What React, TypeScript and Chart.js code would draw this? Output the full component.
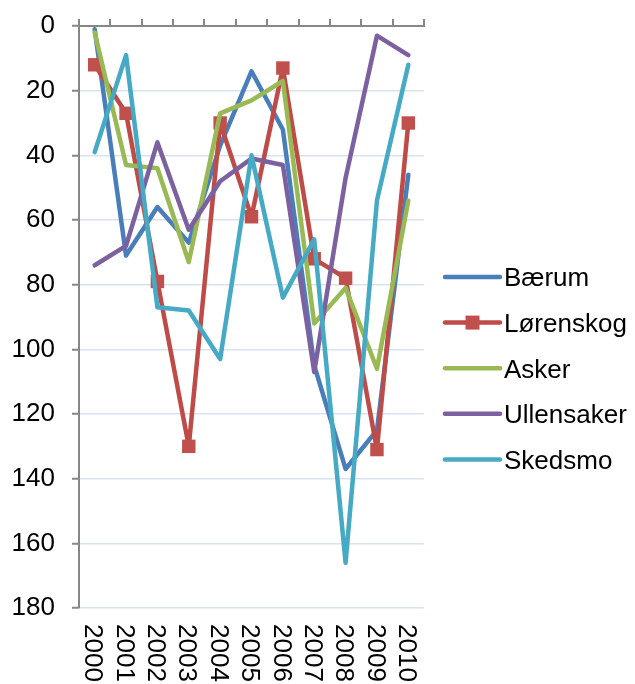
import React, { useEffect, useRef } from "react";
import { Chart, registerables } from "chart.js";

Chart.register(...registerables);

const years = ["2000", "2001", "2002", "2003", "2004", "2005", "2006", "2007", "2008", "2009", "2010"];
const seriesNames = ["Bærum", "Lørenskog", "Asker", "Ullensaker", "Skedsmo"];
const baerum = [1, 71, 56, 67, 37, 14, 32, 105, 137, 125, 46];
const lorenskog = [12, 27, 79, 130, 30, 59, 13, 72, 78, 131, 30];
const asker = [2, 43, 44, 73, 27, 23, 17, 92, 81, 106, 54];
const ullensaker = [74, 68, 36, 63, 48, 41, 43, 107, 47, 3, 9];
const skedsmo = [39, 9, 87, 88, 103, 40, 84, 66, 166, 54, 12];
const yMin = 0;
const yMax = 180;
const yStep = 20;

const colors = ["#4A7EBB", "#BE4B48", "#98B954", "#7D60A0", "#46AAC5"];
const FONT = "'Liberation Sans', Arial, sans-serif";
const FS = 26;

const W = 635;
const H = 684;

export default function App() {
  const ref = useRef<HTMLCanvasElement | null>(null);

  useEffect(() => {
    const canvas = ref.current;
    if (!canvas) return;
    const values = [baerum, lorenskog, asker, ullensaker, skedsmo];

    const labelPlugin = {
      id: "customLabels",
      afterDraw(chart: any) {
        const ctx = chart.ctx;
        const xs = chart.scales.x;
        ctx.save();
        ctx.fillStyle = "#000";
        ctx.font = `${FS}px ${FONT}`;
        // x labels rotated 90 deg
        years.forEach((lab, i) => {
          const px = xs.getPixelForValue(i);
          ctx.save();
          ctx.translate(px, 624);
          ctx.rotate(Math.PI / 2);
          ctx.textAlign = "left";
          ctx.textBaseline = "alphabetic";
          ctx.fillText(lab, 0, 0.36 * FS);
          ctx.restore();
        });
        // legend
        const legendY0 = 277;
        const legendStep = 45.6;
        const lx1 = 445;
        const lx2 = 500;
        chart.data.datasets.forEach((ds: any, i: number) => {
          const y = legendY0 + i * legendStep;
          ctx.save();
          ctx.strokeStyle = ds.borderColor;
          ctx.lineWidth = 4.5;
          ctx.lineCap = "round";
          ctx.beginPath();
          ctx.moveTo(lx1, y);
          ctx.lineTo(lx2, y);
          ctx.stroke();
          if (ds.pointRadius > 0) {
            ctx.fillStyle = ds.pointBackgroundColor;
            const s = 14;
            ctx.fillRect((lx1 + lx2) / 2 - s / 2, y - s / 2, s, s);
          }
          ctx.fillStyle = "#000";
          ctx.font = `${FS}px ${FONT}`;
          ctx.textAlign = "left";
          ctx.textBaseline = "alphabetic";
          ctx.fillText(ds.label, 504, y + 0.36 * FS);
          ctx.restore();
        });
        ctx.restore();
      },
    };

    const chart = new Chart(canvas, {
      type: "line",
      data: {
        labels: years,
        datasets: seriesNames.map((name, i) => ({
          label: name,
          data: values[i],
          borderColor: colors[i],
          backgroundColor: colors[i],
          pointBackgroundColor: i === 1 ? "#C0504D" : colors[i],
          pointBorderColor: i === 1 ? "#C0504D" : colors[i],
          pointBorderWidth: 0,
          pointStyle: "rect",
          pointRadius: i === 1 ? 9.5 : 0,
          pointHoverRadius: i === 1 ? 9.5 : 0,
          borderWidth: 4.5,
          borderCapStyle: "round",
          borderJoinStyle: "round",
          tension: 0,
          fill: false,
          clip: 20,
          order: 4 - i,
          xAxisID: "x",
          yAxisID: "y",
        })),
      },
      options: {
        responsive: false,
        animation: false,
        devicePixelRatio: 1,
        layout: { padding: { left: 0, top: 0, right: W - 424, bottom: 0 } },
        plugins: {
          legend: { display: false },
          tooltip: { enabled: false },
          title: { display: false },
        },
        scales: {
          x: {
            type: "category",
            position: "bottom",
            offset: true,
            grid: { display: false, drawTicks: false },
            border: { display: false },
            ticks: { display: false },
            afterFit: (s: any) => {
              s.height = H - 608;
              s.paddingLeft = 0;
              s.paddingRight = 0;
            },
          },
          x2: {
            type: "category",
            labels: years,
            position: "top",
            offset: true,
            grid: {
              display: true,
              drawOnChartArea: false,
              drawTicks: true,
              tickLength: 7,
              offset: true,
              color: "#878787",
              tickColor: "#878787",
              lineWidth: 2,
            },
            border: { display: true, color: "#878787", width: 2 },
            ticks: { display: false },
            afterFit: (s: any) => {
              s.height = 26;
              s.paddingLeft = 0;
              s.paddingRight = 0;
            },
          },
          y: {
            type: "linear",
            reverse: true,
            min: yMin,
            max: yMax,
            position: "left",
            ticks: {
              stepSize: yStep,
              padding: 17,
              color: "#000",
              font: { family: FONT, size: FS },
            },
            grid: {
              color: "#D9E3F0",
              lineWidth: 1.5,
              tickColor: "#878787",
              tickLength: 7,
              tickWidth: 2,
            },
            border: { display: true, color: "#878787", width: 2 },
            afterFit: (s: any) => {
              s.width = 79;
              s.paddingTop = 0;
              s.paddingBottom = 0;
            },
          },
        },
      },
      plugins: [labelPlugin],
    } as any);

    return () => chart.destroy();
  }, []);

  return (
    <div style={{ position: "absolute", left: 0, top: 0, width: W, height: H, background: "#fff" }}>
      <canvas ref={ref} width={W} height={H} style={{ display: "block", width: W, height: H }} />
    </div>
  );
}
